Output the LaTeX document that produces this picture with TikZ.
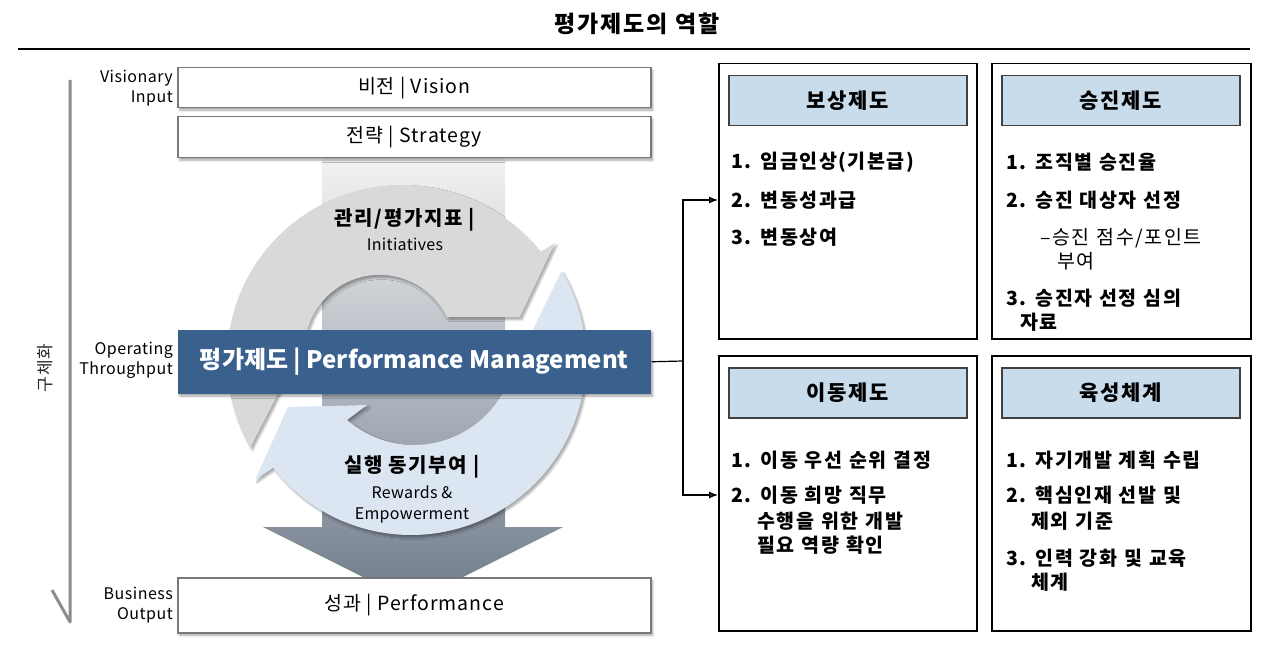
\documentclass[tikz,border=0pt]{standalone}
\usepackage{fontspec}
\setmainfont{Noto Sans CJK KR}
\usetikzlibrary{calc,shadows.blur,arrows.meta}

\definecolor{pmblue}{RGB}{58,96,142}
\definecolor{arrowgray}{RGB}{217,217,217}
\definecolor{arrowblue}{RGB}{220,230,242}
\definecolor{headblue}{RGB}{201,220,236}
\definecolor{framegray}{RGB}{120,120,120}
\definecolor{axisgray}{RGB}{140,140,140}
\definecolor{bandtop}{RGB}{243,243,243}
\definecolor{bandmid}{RGB}{206,209,214}
\definecolor{bandbot}{RGB}{112,124,140}

\newcommand{\spaced}[1]{\addfontfeatures{LetterSpace=#1}}
\newcommand{\itemfont}{\addfontfeatures{LetterSpace=8}\spaceskip=0.36em plus 0.1em}

\tikzset{
  softshadow/.style={blur shadow={shadow xshift=2pt,shadow yshift=-2.5pt,shadow blur steps=6,shadow opacity=35}},
  sbox/.style={draw=framegray,line width=1.5,fill=white,minimum width=473,anchor=north west,
    font=\fontsize{19.5}{22}\selectfont\spaced{5},softshadow},
  side/.style={align=right,anchor=east,inner sep=1,font=\fontsize{16}{20}\selectfont\spaced{3}},
  frame/.style={draw=black,line width=1.5,minimum width=258,minimum height=275,anchor=north west},
  head/.style={draw=black!75,line width=1.5,fill=headblue,minimum width=238,minimum height=50,
    anchor=north west,font=\bfseries\fontsize{21}{24}\selectfont\spaced{8}},
  itm/.style={anchor=west,inner sep=0,font=\bfseries\fontsize{19.5}{24}\selectfont\itemfont},
  itmr/.style={anchor=west,inner sep=0,font=\fontsize{19.5}{24}\selectfont\itemfont},
  ctitle/.style={font=\bfseries\fontsize{20}{22}\selectfont\spaced{8}},
  csub/.style={align=center,font=\fontsize{16}{21}\selectfont\spaced{2}},
  link/.style={line width=1.2,-{Latex[length=9pt,width=7pt]}},
  axis/.style={draw=axisgray,line width=3,line join=round},
}

\begin{document}
\begin{tikzpicture}[x=1pt,y=-1pt]
  \useasboundingbox (0,0) rectangle (1280,647);
  \node[font=\bfseries\fontsize{23}{26}\selectfont\spaced{8}] (title) at (637,24) {평가제도의 역할};
  \draw[line width=1.5] (18,49) -- (1250,49);

  % left axis
  \draw[axis] (70,80) -- (70,622) -- (52,590);
  \node[rotate=90,text=black!85,font=\fontsize{17}{19}\selectfont\spaced{6}] (concr) at (45,368) {구체화};

  % band and output arrow
  \shade[top color=bandtop,middle color=bandmid,bottom color=bandbot]
    (322,157) -- (505,157) -- (505,527) -- (563,527) -- (413,602) -- (263,527) -- (322,527) -- cycle;

  % cycle arrows
  \coordinate (go) at (402,360);
  \coordinate (bo) at (411,360);
  \fill[arrowgray,softshadow] ($(go)+(150:175)$) arc[start angle=150,end angle=322,radius=175]
    -- (555,243) -- (520,317) -- (447,317) arc[start angle=334,end angle=180,radius=75]
    -- (285,380) -- cycle;
  \fill[arrowblue,softshadow] ($(bo)+(-30.6:175)$) arc[start angle=-30.6,end angle=142,radius=175]
    -- (255,480) -- (288,407) -- (367,405) -- (347,420) arc[start angle=131,end angle=18,radius=102]
    -- cycle;

  \node[ctitle] (kpi) at (405,220) {관리/평가지표 |};
  \node[csub] (kpien) at (405,244) {Initiatives};
  \node[ctitle] (motiv) at (412,467) {실행 동기부여 |};
  \node[csub] (motiven) at (412,504) {Rewards \&\\Empowerment};

  % left column
  \node[sbox,minimum height=40] (vision) at (177,67) {비전 | Vision};
  \node[sbox,minimum height=41] (strategy) at (177,116) {전략 | Strategy};
  \node[sbox,draw=none,fill=pmblue,minimum height=64,text=white,
    font=\bfseries\fontsize{24}{26}\selectfont] (pm) at (177,329) {평가제도 | Performance Management};
  \node[sbox,minimum height=55] (perf) at (177,577) {성과 | Performance};

  \node[side] (inlbl) at (174,88) {Visionary\\Input};
  \node[side] (thlbl) at (174,360) {Operating\\Throughput};
  \node[side] (outlbl) at (174,605) {Business\\Output};

  % right boxes
  \node[frame] (comp) at (718,63) {};
  \node[frame,minimum width=259] (promo) at (991,63) {};
  \node[frame] (move) at (718,355) {};
  \node[frame,minimum width=259] (grow) at (991,355) {};
  \node[head] (comph) at (728,75) {보상제도};
  \node[head] (promoh) at (1001,75) {승진제도};
  \node[head] (moveh) at (728,367) {이동제도};
  \node[head] (growh) at (1001,367) {육성체계};

  \node[itm] (c1) at (731,162) {1. 임금인상(기본급)};
  \node[itm] (c2) at (731,200) {2. 변동성과급};
  \node[itm] (c3) at (731,237) {3. 변동상여};

  \node[itm] (p1) at (1006,162) {1. 조직별 승진율};
  \node[itm] (p2) at (1006,200) {2. 승진 대상자 선정};
  \node[itmr] (p2a) at (1040,238) {–승진 점수/포인트};
  \node[itmr] (p2b) at (1057,261) {부여};
  \node[itm] (p3) at (1006,298) {3. 승진자 선정 심의};
  \node[itm] (p3b) at (1020,322) {자료};

  \node[itm] (m1) at (731,460) {1. 이동 우선 순위 결정};
  \node[itm] (m2) at (731,495) {2. 이동 희망 직무};
  \node[itm] (m2b) at (757,521) {수행을 위한 개발};
  \node[itm] (m2c) at (757,545) {필요 역량 확인};

  \node[itm] (g1) at (1006,460) {1. 자기개발 계획 수립};
  \node[itm] (g2) at (1006,495) {2. 핵심인재 선발 및};
  \node[itm] (g2b) at (1031,521) {제외 기준};
  \node[itm] (g3) at (1006,558) {3. 인력 강화 및 교육};
  \node[itm] (g3b) at (1031,582) {체계};

  % connectors
  \coordinate (split) at (683,361);
  \draw[line width=1.2] (pm.east) -- (split);
  \draw[link] (split) |- (comp.west |- c2);
  \draw[link] (split) |- (move.west |- m2);
\end{tikzpicture}
\end{document}
